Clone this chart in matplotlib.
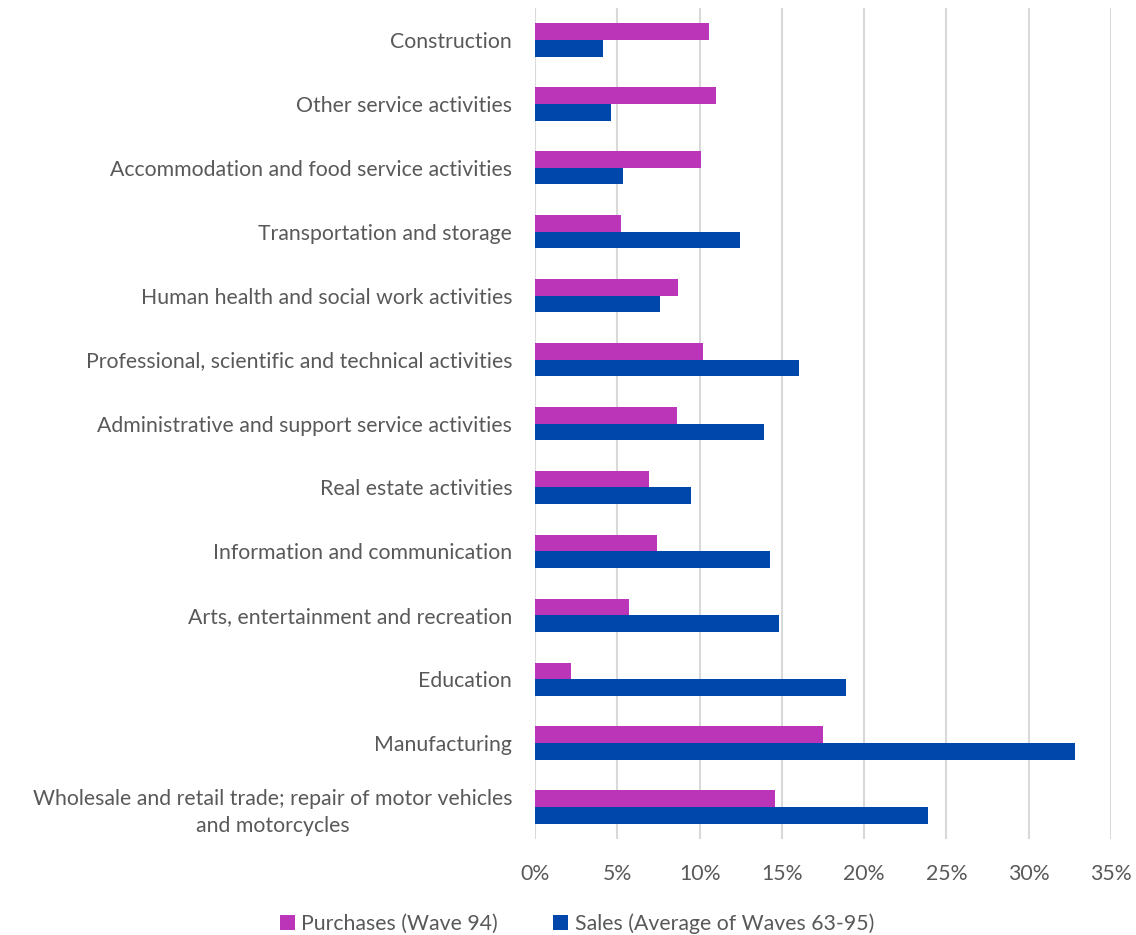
import numpy as np
import matplotlib
matplotlib.use("Agg")
from matplotlib import pyplot as plt
from matplotlib.ticker import PercentFormatter

# categories listed bottom to top
categories = [
    "Wholesale and retail trade; repair of motor vehicles\nand motorcycles",
    "Manufacturing",
    "Education",
    "Arts, entertainment and recreation",
    "Information and communication",
    "Real estate activities",
    "Administrative and support service activities",
    "Professional, scientific and technical activities",
    "Human health and social work activities",
    "Transportation and storage",
    "Accommodation and food service activities",
    "Other service activities",
    "Construction",
]
purchases = [14.6, 17.5, 2.2, 5.7, 7.4, 6.9, 8.6, 10.2, 8.7, 5.2, 10.1, 11.0, 10.6]
sales = [23.9, 32.8, 18.9, 14.8, 14.3, 9.5, 13.9, 16.06, 7.6, 12.45, 5.35, 4.6, 4.1]
x_ticks = [0, 5, 10, 15, 20, 25, 30, 35]

plt.rcParams['font.family'] = ['Lato', 'DejaVu Sans']

fig = plt.figure(figsize=(11.36, 9.35), dpi=100)
ax = fig.add_axes([0.471, 0.1027, 0.507, 0.8887])

y = np.arange(len(categories))
h = 0.26
ax.barh(y + h / 2, purchases, height=h, color="#BA35B8", label="Purchases (Wave 94)", zorder=3)
ax.barh(y - h / 2, sales, height=h, color="#0047AB", label="Sales (Average of Waves 63-95)", zorder=3)

ax.set_xlim(0, 35)
ax.set_ylim(-0.5, len(categories) - 0.5)
ax.set_xticks(x_ticks)
ax.xaxis.set_major_formatter(PercentFormatter(decimals=0))
ax.set_yticks(y)
ax.set_yticklabels(categories, multialignment="center", linespacing=1.45)
ax.grid(axis="x", color="#d9d9d9", linewidth=1.5, zorder=0)
for s in ax.spines.values():
    s.set_visible(False)
ax.tick_params(axis="both", length=0, labelsize=15.3, colors="#595959")
ax.tick_params(axis="y", pad=16.5)
ax.tick_params(axis="x", pad=18)

fig.legend(loc="lower center", bbox_to_anchor=(0.508, -0.019), ncol=2, frameon=False,
           fontsize=15.3, labelcolor="#595959", handlelength=0.7, handleheight=0.7,
           handletextpad=0.3, columnspacing=2.6)

plt.savefig("out.png", dpi=100)
